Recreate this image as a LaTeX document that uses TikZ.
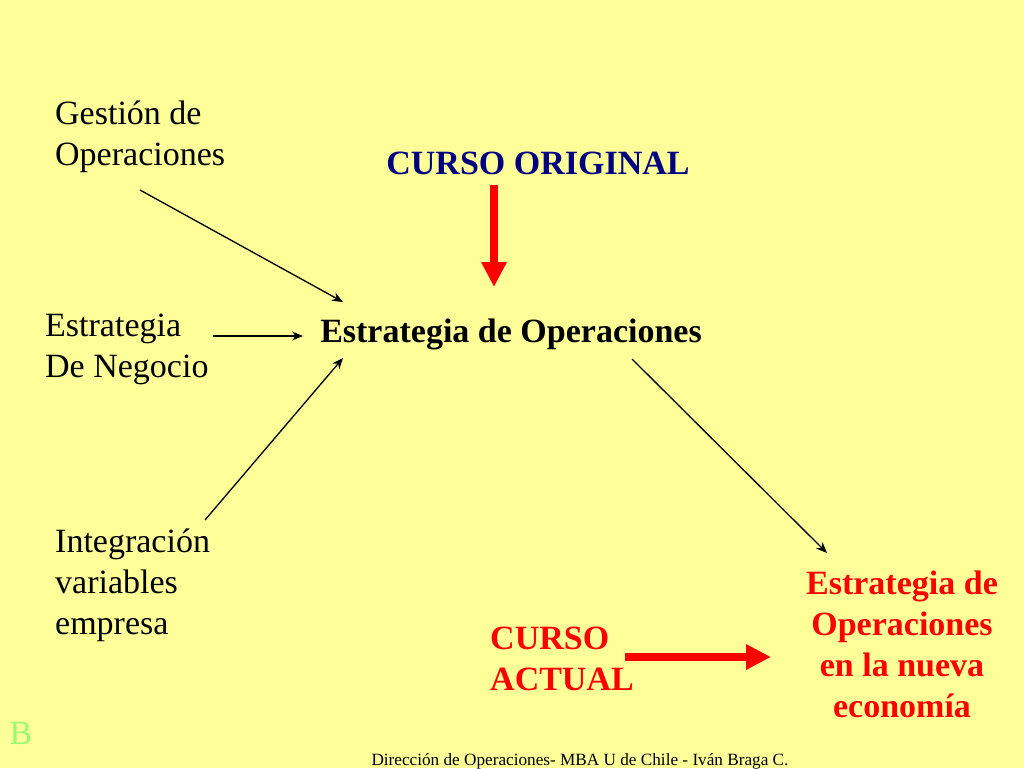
\documentclass[tikz,border=0pt]{standalone}
\usepackage{fontspec}
\setmainfont{Liberation Serif}
\usetikzlibrary{arrows.meta}
\definecolor{slide}{RGB}{255,255,153}
\definecolor{cursoblue}{RGB}{0,0,128}
\definecolor{markgreen}{RGB}{153,250,110}
\begin{document}
\begin{tikzpicture}[x=1pt, y=-1pt,
	every node/.style={inner sep=0pt, font=\fontsize{34}{41}\selectfont},
	lefttext/.style={anchor=west, align=left},
	thinarrow/.style={-{Stealth[length=11pt,width=9pt]}, line width=1.3pt},
	bigarrow/.style={-{Triangle[length=25pt,width=24pt]}, line width=8pt, red}]
	
	% slide
	\fill[slide] (0, 0) rectangle (1024, 768);
	\useasboundingbox (0, 0) rectangle (1024, 768);
	
	% inputs
	\node[lefttext] (gestion) at (55, 137) {Gesti\'on de\\Operaciones};
	\node[lefttext] (negocio) at (45, 349) {Estrategia\\De Negocio};
	\node[lefttext] (integra) at (55, 585) {Integraci\'on\\variables\\empresa};
	
	% centre
	\node[font=\fontsize{34}{41}\selectfont\bfseries] (estrat) at (511, 334) {Estrategia de Operaciones};
	\node[font=\fontsize{34}{41}\selectfont\bfseries, text=cursoblue] (original) at (538, 163) {CURSO ORIGINAL};
	
	% new economy
	\node[font=\fontsize{34}{41}\selectfont\bfseries, text=red, align=center] (nueva) at (902, 644)
		{Estrategia de\\Operaciones\\en la nueva\\econom\'ia};
	\node[lefttext, font=\fontsize{34}{41}\selectfont\bfseries, text=red] (actual) at (490, 659) {CURSO\\ACTUAL};
	
	% corner mark and footer
	\node[text=markgreen] (mark) at (21, 733) {B};
	\node[font=\fontsize{17.2}{20}\selectfont] (footer) at (580, 761)
		{Direcci\'on de Operaciones- MBA U de Chile - Iv\'an Braga C.};
	
	% arrow ends
	\coordinate (gestion-out) at (140, 190);
	\coordinate (negocio-out) at (213, 336);
	\coordinate (integra-out) at (205, 520);
	\coordinate (estrat-top) at (343, 302);
	\coordinate (estrat-left) at (303, 336);
	\coordinate (estrat-bot) at (343, 358);
	\coordinate (estrat-out) at (632, 359);
	\coordinate (nueva-in) at (827, 553);
	\coordinate (original-out) at (494, 185);
	\coordinate (estrat-in) at (494, 287);
	\coordinate (actual-out) at (625, 657);
	\coordinate (nueva-left) at (771, 657);
	
	\draw[thinarrow] (gestion-out) -- (estrat-top);
	\draw[thinarrow] (negocio-out) -- (estrat-left);
	\draw[thinarrow] (integra-out) -- (estrat-bot);
	\draw[thinarrow] (estrat-out) -- (nueva-in);
	
	\draw[bigarrow] (original-out) -- (estrat-in);
	\draw[bigarrow] (actual-out) -- (nueva-left);
\end{tikzpicture}
\end{document}
